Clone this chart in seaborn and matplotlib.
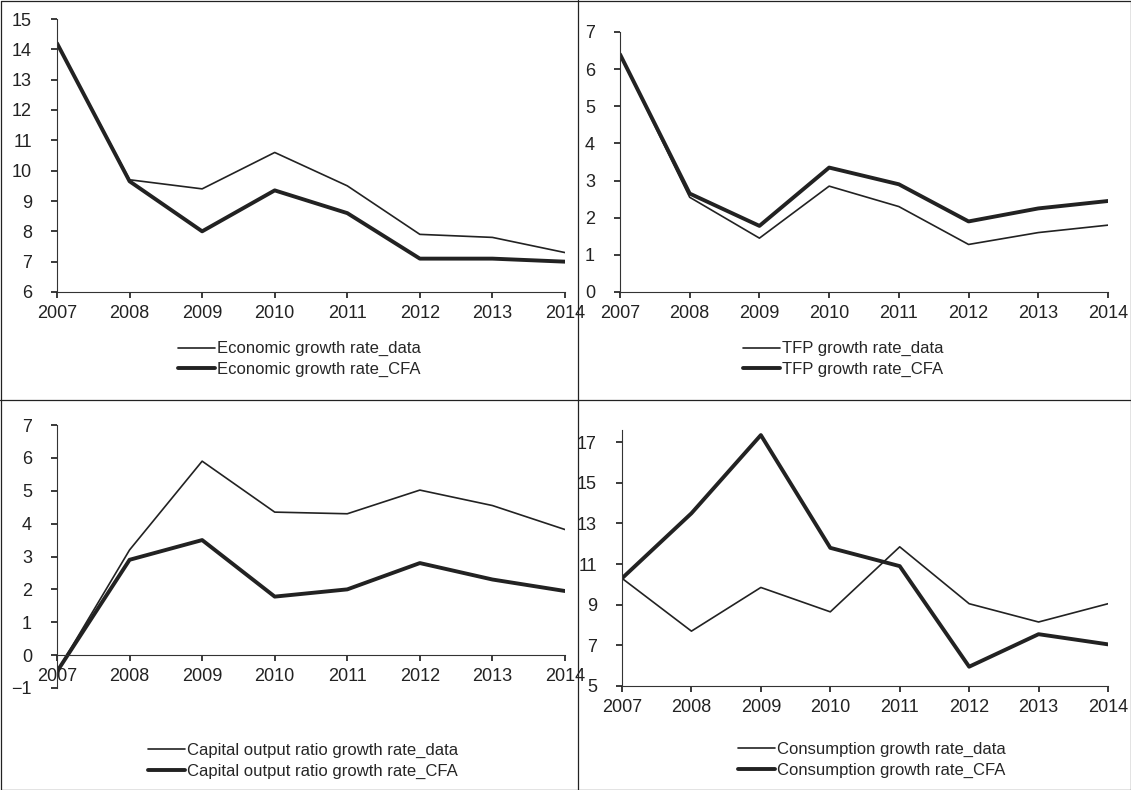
import matplotlib
matplotlib.use("Agg")
import matplotlib.pyplot as plt
import seaborn as sns
import pandas as pd

sns.set_theme(style="white")
plt.rcParams["font.family"] = ["Liberation Sans", "DejaVu Sans"]

years = [2007, 2008, 2009, 2010, 2011, 2012, 2013, 2014]

econ_data = [14.2, 9.7, 9.4, 10.6, 9.5, 7.9, 7.8, 7.3]
econ_cfa = [14.2, 9.65, 8.0, 9.35, 8.6, 7.1, 7.1, 7.0]
tfp_data = [6.4, 2.55, 1.45, 2.85, 2.3, 1.28, 1.6, 1.8]
tfp_cfa = [6.4, 2.65, 1.78, 3.35, 2.9, 1.9, 2.25, 2.45]
cap_data = [-0.5, 3.2, 5.9, 4.35, 4.3, 5.02, 4.55, 3.82]
cap_cfa = [-0.5, 2.9, 3.5, 1.78, 2.0, 2.8, 2.3, 1.95]
cons_data = [10.3, 7.7, 9.85, 8.65, 11.85, 9.05, 8.15, 9.05]
cons_cfa = [10.3, 13.5, 17.35, 11.8, 10.9, 5.95, 7.55, 7.05]

W, H = 1131, 790
fig = plt.figure(figsize=(W / 100, H / 100), dpi=100)

panels = [
    # (left px, top px, right px, bottom px), data, cfa, name, ylim, yticks, xaxis_at, legend x, legend y
    ((57, 19, 565, 292), econ_data, econ_cfa, "Economic growth rate",
     (6, 15), range(6, 16), None, 170, 333),
    ((620, 32, 1108, 292), tfp_data, tfp_cfa, "TFP growth rate",
     (0, 7), range(0, 8), None, 735, 333),
    ((57, 425, 565, 688), cap_data, cap_cfa, "Capital output ratio growth rate",
     (-1, 7), range(-1, 8), 0, 140, 735),
    ((622, 430, 1108, 686), cons_data, cons_cfa, "Consumption growth rate",
     (5, 17.6), range(5, 18, 2), None, 730, 734),
]

for (l, t, r, b), d1, d2, name, ylim, yticks, xat, lx, ly in panels:
    ax = fig.add_axes([l / W, 1 - b / H, (r - l) / W, (b - t) / H])
    df = pd.DataFrame({"year": years + years,
                       "value": d1 + d2,
                       "series": [name + "_data"] * 8 + [name + "_CFA"] * 8})
    sns.lineplot(data=df, x="year", y="value", hue="series", size="series",
                 sizes={name + "_data": 1.2, name + "_CFA": 2.8},
                 palette={name + "_data": "#222222", name + "_CFA": "#222222"},
                 ax=ax, legend=True)
    ax.set_xlim(2007, 2014)
    ax.set_ylim(*ylim)
    ax.set_yticks(list(yticks))
    ax.set_xticks(years)
    ax.set_xlabel("")
    ax.set_ylabel("")
    for s in ("top", "right"):
        ax.spines[s].set_visible(False)
    for s in ("left", "bottom"):
        ax.spines[s].set_color("#333333")
        ax.spines[s].set_linewidth(0.8)
    if xat is not None:
        ax.spines["bottom"].set_position(("data", xat))
    ax.tick_params(axis="both", labelsize=13, colors="#222222", length=4,
                   direction="out", left=True, bottom=True)
    ax.tick_params(axis="x", pad=5)
    ax.tick_params(axis="y", pad=14)
    ax.patch.set_alpha(0)
    handles, labels = ax.get_legend_handles_labels()
    ax.legend(handles, labels, loc="upper left", frameon=False, fontsize=12,
              bbox_to_anchor=(lx / W, 1 - ly / H),
              bbox_transform=fig.transFigure, handlelength=2.2,
              handletextpad=0.1, labelspacing=0.35, borderpad=0)

# panel frame lines
border = dict(color="#222222", linewidth=0.9, transform=fig.transFigure)
fig.add_artist(plt.Line2D([0.5 / W, 1 - 0.5 / W, 1 - 0.5 / W, 0.5 / W, 0.5 / W],
                          [1 - 0.5 / H, 1 - 0.5 / H, 0.5 / H, 0.5 / H, 1 - 0.5 / H], **border))
fig.add_artist(plt.Line2D([578 / W, 578 / W], [0, 1], **border))
fig.add_artist(plt.Line2D([0, 1], [1 - 400 / H, 1 - 400 / H], **border))

fig.savefig("out.png", dpi=100, facecolor="white")
